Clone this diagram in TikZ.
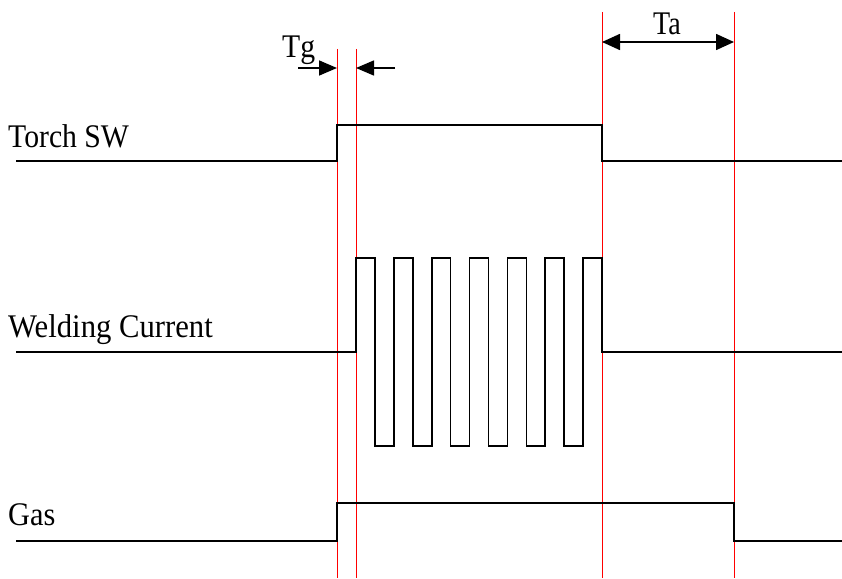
\documentclass[tikz,border=0pt]{standalone}
\usepackage{fontspec}
\setmainfont{Liberation Serif}
\usetikzlibrary{arrows.meta}
\tikzset{
  marker/.style={red, line width=1pt},
  signal/.style={black, line width=1.6pt, line join=miter},
  dimarrow/.style={black, line width=1.6pt},
  lbl/.style={inner sep=0pt, anchor=base west, font=\fontsize{33}{36}\selectfont},
}
\begin{document}
\begin{tikzpicture}[x=1pt,y=-1pt]
\useasboundingbox (0,0) rectangle (842,578);
% red timing markers
\coordinate (a1) at (337,49);  \coordinate (a2) at (337,578);
\coordinate (b1) at (356,49);  \coordinate (b2) at (356,578);
\coordinate (c1) at (602,12);  \coordinate (c2) at (602,578);
\coordinate (d1) at (734,12);  \coordinate (d2) at (734,578);
\draw[marker] (a1) -- (a2);
\draw[marker] (b1) -- (b2);
\draw[marker] (c1) -- (c2);
\draw[marker] (d1) -- (d2);
% labels
\node[lbl] (torch) at (8,147) {\scalebox{0.9}[1]{Torch SW}};
\node[lbl] (weld) at (8,337) {\scalebox{0.93}[1]{Welding Current}};
\node[lbl] (gas) at (8,525) {\scalebox{0.92}[1]{Gas}};
\node[lbl] (tg) at (282,58) {\scalebox{0.9}[1]{Tg}};
\node[lbl] (ta) at (653,35) {\scalebox{0.85}[1]{Ta}};
% Torch SW signal
\draw[signal] (16,161) -- (337,161) -- (337,125) -- (602,125) -- (602,161) -- (842,161);
% Welding current signal
\draw[signal] (16,352) -- (356,352) -- (356,258) -- (374.9,258) -- (374.9,446) -- (393.8,446) -- (393.8,258)
  -- (412.8,258) -- (412.8,446) -- (431.7,446) -- (431.7,258) -- (450.6,258) -- (450.6,446)
  -- (469.5,446) -- (469.5,258) -- (488.5,258) -- (488.5,446) -- (507.4,446) -- (507.4,258)
  -- (526.3,258) -- (526.3,446) -- (545.2,446) -- (545.2,258) -- (564.2,258) -- (564.2,446)
  -- (583.1,446) -- (583.1,258) -- (602,258) -- (602,352) -- (842,352);
% Gas signal
\draw[signal] (16,541) -- (337,541) -- (337,503) -- (734,503) -- (734,541) -- (842,541);
% Tg arrows
\coordinate (tgl) at (298,68); \coordinate (tgla) at (337,68);
\coordinate (tgr) at (395,68); \coordinate (tgra) at (356,68);
\draw[dimarrow, -{Triangle[length=18pt,width=15pt]}] (tgl) -- (tgla);
\draw[dimarrow, -{Triangle[length=18pt,width=15pt]}] (tgr) -- (tgra);
% Ta arrow
\coordinate (tal) at (602,42); \coordinate (tar) at (734,42);
\draw[dimarrow, {Triangle[length=18pt,width=16pt]}-{Triangle[length=18pt,width=16pt]}] (tal) -- (tar);
\end{tikzpicture}
\end{document}
